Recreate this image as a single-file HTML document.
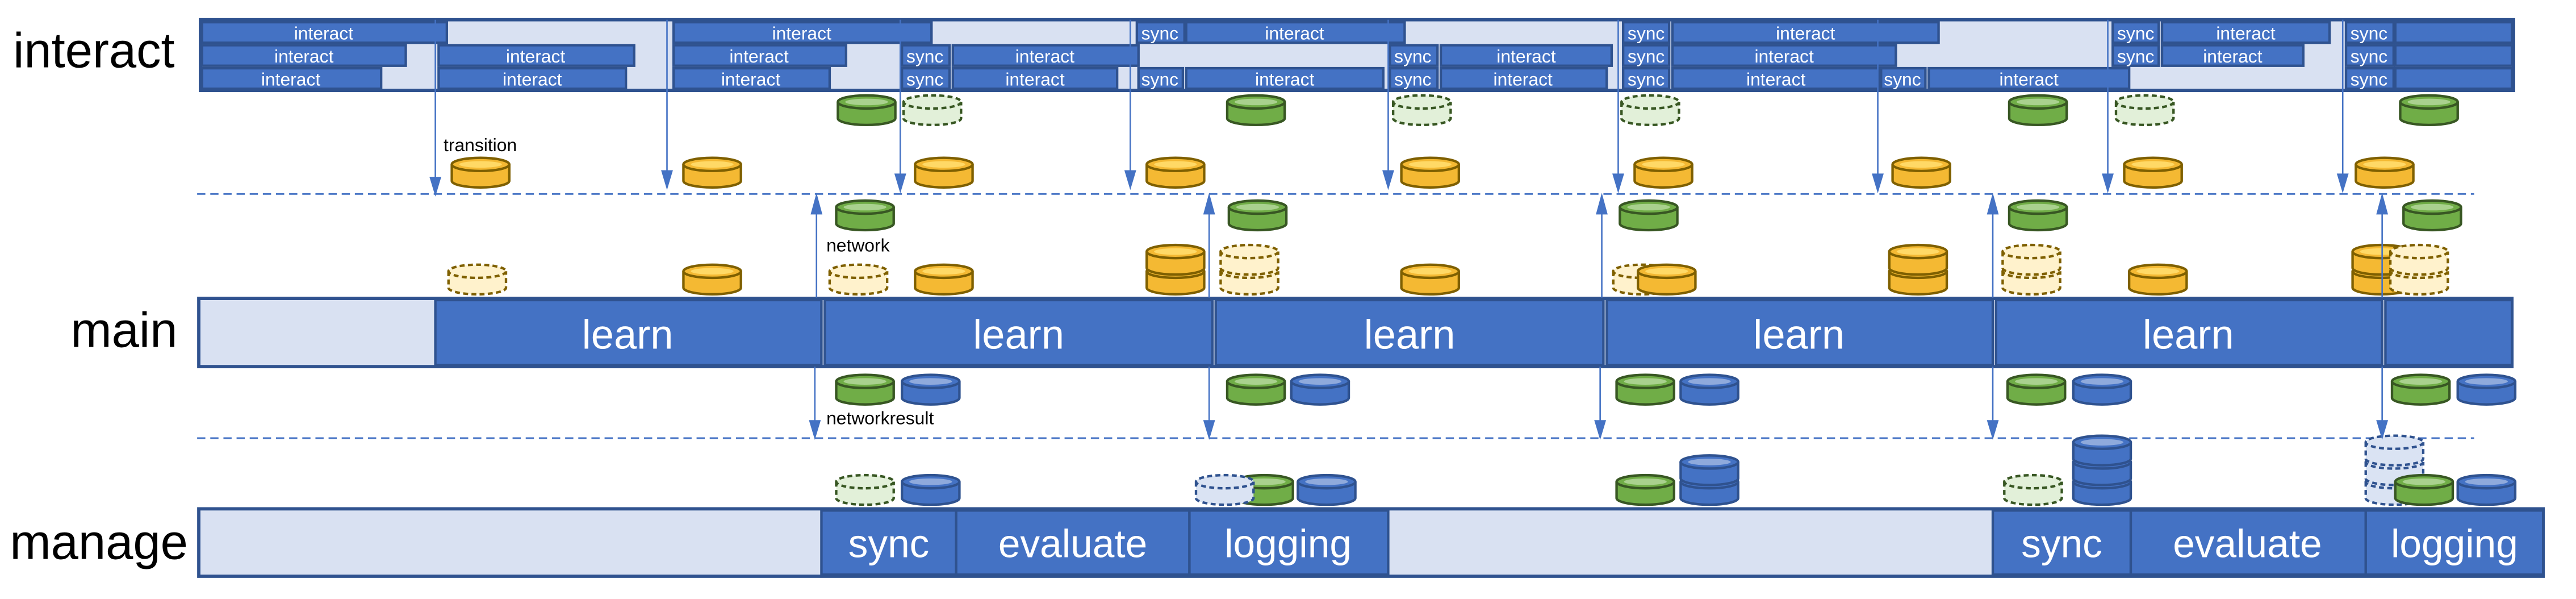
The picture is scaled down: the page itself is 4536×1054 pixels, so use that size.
<!DOCTYPE html>
<html><head><meta charset="utf-8"><style>
html,body{margin:0;padding:0;background:#fff;}
svg{display:block;}
text{font-family:"Liberation Sans",sans-serif;}
</style></head><body>
<svg width="4536" height="1054" viewBox="0 0 1568 364.34" preserveAspectRatio="none" xmlns="http://www.w3.org/2000/svg">
<defs>
<g id="Y"><path d="M0,4 V14 A17.5,4 0 0 0 35,14 V4" fill="#F4B933" stroke="#7F6000" stroke-width="1.5"/><ellipse cx="17.5" cy="4" rx="17.5" ry="4" fill="#F4B933" stroke="#7F6000" stroke-width="1.5"/><ellipse cx="17.5" cy="4" rx="13" ry="2" fill="#FFD966"/></g>
<g id="YD"><path d="M0,4 V14 A17.5,4 0 0 0 35,14 V4" fill="#FFF2CC" stroke="#7F6000" stroke-width="1.5" stroke-dasharray="3,2"/><ellipse cx="17.5" cy="4" rx="17.5" ry="4" fill="#FFF2CC" stroke="#7F6000" stroke-width="1.5" stroke-dasharray="3,2"/></g>
<g id="G"><path d="M0,4 V14 A17.5,4 0 0 0 35,14 V4" fill="#70AD47" stroke="#385723" stroke-width="1.5"/><ellipse cx="17.5" cy="4" rx="17.5" ry="4" fill="#70AD47" stroke="#385723" stroke-width="1.5"/><ellipse cx="17.5" cy="4" rx="13" ry="2" fill="#A9D18E"/></g>
<g id="GD"><path d="M0,4 V14 A17.5,4 0 0 0 35,14 V4" fill="#E2F0D9" stroke="#385723" stroke-width="1.5" stroke-dasharray="3,2"/><ellipse cx="17.5" cy="4" rx="17.5" ry="4" fill="#E2F0D9" stroke="#385723" stroke-width="1.5" stroke-dasharray="3,2"/></g>
<g id="B"><path d="M0,4 V14 A17.5,4 0 0 0 35,14 V4" fill="#4472C4" stroke="#2F528F" stroke-width="1.5"/><ellipse cx="17.5" cy="4" rx="17.5" ry="4" fill="#4472C4" stroke="#2F528F" stroke-width="1.5"/><ellipse cx="17.5" cy="4" rx="13" ry="2" fill="#8FAADC"/></g>
<g id="BD"><path d="M0,4 V14 A17.5,4 0 0 0 35,14 V4" fill="#DAE3F3" stroke="#2F528F" stroke-width="1.5" stroke-dasharray="3,2"/><ellipse cx="17.5" cy="4" rx="17.5" ry="4" fill="#DAE3F3" stroke="#2F528F" stroke-width="1.5" stroke-dasharray="3,2"/></g>
</defs>

<!-- left labels -->
<text x="8" y="41" font-size="30">interact</text>
<text x="43" y="211" font-size="30">main</text>
<text x="6" y="340" font-size="30">manage</text>

<!-- interact frame -->
<rect x="122" y="12" width="1408" height="43" fill="#D9E1F2" stroke="#2F528F" stroke-width="2"/>
<g fill="#4472C4" stroke="#2F528F" stroke-width="1.5">
<!-- row1 -->
<rect x="123" y="13.5" width="149" height="12.5"/><rect x="410" y="13.5" width="157" height="12.5"/><rect x="692" y="13.5" width="29" height="12.5"/><rect x="722" y="13.5" width="133" height="12.5"/><rect x="988" y="13.5" width="28" height="12.5"/><rect x="1018" y="13.5" width="162" height="12.5"/><rect x="1286" y="13.5" width="28" height="12.5"/><rect x="1316" y="13.5" width="102" height="12.5"/><rect x="1428" y="13.5" width="29" height="12.5"/><rect x="1458" y="13.5" width="71" height="12.5"/>
<!-- row2 -->
<rect x="123" y="27.5" width="124" height="12.5"/><rect x="267" y="27.5" width="119" height="12.5"/><rect x="410" y="27.5" width="105" height="12.5"/><rect x="549" y="27.5" width="29" height="12.5"/><rect x="580" y="27.5" width="113" height="12.5"/><rect x="846" y="27.5" width="29" height="12.5"/><rect x="877" y="27.5" width="104" height="12.5"/><rect x="988" y="27.5" width="28" height="12.5"/><rect x="1018" y="27.5" width="136" height="12.5"/><rect x="1286" y="27.5" width="28" height="12.5"/><rect x="1316" y="27.5" width="86" height="12.5"/><rect x="1428" y="27.5" width="29" height="12.5"/><rect x="1458" y="27.5" width="71" height="12.5"/>
<!-- row3 -->
<rect x="123" y="41.5" width="109" height="12.5"/><rect x="267" y="41.5" width="114" height="12.5"/><rect x="410" y="41.5" width="95" height="12.5"/><rect x="549" y="41.5" width="29" height="12.5"/><rect x="580" y="41.5" width="100" height="12.5"/><rect x="693" y="41.5" width="27" height="12.5"/><rect x="722" y="41.5" width="120" height="12.5"/><rect x="846" y="41.5" width="29" height="12.5"/><rect x="877" y="41.5" width="101" height="12.5"/><rect x="988" y="41.5" width="28" height="12.5"/><rect x="1018" y="41.5" width="126" height="12.5"/><rect x="1145" y="41.5" width="27" height="12.5"/><rect x="1174" y="41.5" width="122" height="12.5"/><rect x="1428" y="41.5" width="29" height="12.5"/><rect x="1458" y="41.5" width="71" height="12.5"/>
</g>
<g fill="#fff" font-size="11" text-anchor="middle">
<text x="197" y="24">interact</text><text x="488" y="24">interact</text><text x="706" y="24">sync</text><text x="788" y="24">interact</text><text x="1002" y="24">sync</text><text x="1099" y="24">interact</text><text x="1300" y="24">sync</text><text x="1367" y="24">interact</text><text x="1442" y="24">sync</text>
<text x="185" y="38">interact</text><text x="326" y="38">interact</text><text x="462" y="38">interact</text><text x="563" y="38">sync</text><text x="636" y="38">interact</text><text x="860" y="38">sync</text><text x="929" y="38">interact</text><text x="1002" y="38">sync</text><text x="1086" y="38">interact</text><text x="1300" y="38">sync</text><text x="1359" y="38">interact</text><text x="1442" y="38">sync</text>
<text x="177" y="52">interact</text><text x="324" y="52">interact</text><text x="457" y="52">interact</text><text x="563" y="52">sync</text><text x="630" y="52">interact</text><text x="706" y="52">sync</text><text x="782" y="52">interact</text><text x="860" y="52">sync</text><text x="927" y="52">interact</text><text x="1002" y="52">sync</text><text x="1081" y="52">interact</text><text x="1158" y="52">sync</text><text x="1235" y="52">interact</text><text x="1442" y="52">sync</text>
</g>

<!-- dashed lines -->
<line x1="120" y1="118" x2="1506" y2="118" stroke="#4472C4" stroke-width="1" stroke-dasharray="5,3"/>
<line x1="120" y1="266.5" x2="1506" y2="266.5" stroke="#4472C4" stroke-width="1" stroke-dasharray="5,3"/>

<!-- main bar -->
<rect x="121" y="181.5" width="1408" height="41.5" fill="#D9E1F2" stroke="#2F528F" stroke-width="2"/>
<g fill="#4472C4" stroke="#2F528F" stroke-width="1.5">
<rect x="265" y="182.5" width="235" height="39.5"/><rect x="502" y="182.5" width="236" height="39.5"/><rect x="740" y="182.5" width="236" height="39.5"/><rect x="978" y="182.5" width="235" height="39.5"/><rect x="1215" y="182.5" width="235" height="39.5"/><rect x="1452" y="182.5" width="77" height="39.5"/>
</g>
<g fill="#fff" font-size="25" text-anchor="middle">
<text x="382" y="212">learn</text><text x="620" y="212">learn</text><text x="858" y="212">learn</text><text x="1095" y="212">learn</text><text x="1332" y="212">learn</text>
</g>

<!-- manage bar -->
<rect x="121" y="309.5" width="1427" height="41" fill="#D9E1F2" stroke="#2F528F" stroke-width="2"/>
<g fill="#4472C4" stroke="#2F528F" stroke-width="1.5">
<rect x="500" y="310.5" width="82" height="39"/><rect x="582" y="310.5" width="142" height="39"/><rect x="724" y="310.5" width="121" height="39"/><rect x="1213" y="310.5" width="84" height="39"/><rect x="1297" y="310.5" width="143" height="39"/><rect x="1440" y="310.5" width="108" height="39"/>
</g>
<g fill="#fff" font-size="24" text-anchor="middle">
<text x="541" y="339">sync</text><text x="653" y="339">evaluate</text><text x="784" y="339">logging</text><text x="1255" y="339">sync</text><text x="1368" y="339">evaluate</text><text x="1494" y="339">logging</text>
</g>

<!-- cylinders upper -->
<use href="#G" x="510" y="58"/><use href="#GD" x="550" y="58"/><use href="#G" x="747" y="58"/><use href="#GD" x="848" y="58"/><use href="#GD" x="987" y="58"/><use href="#G" x="1223" y="58"/><use href="#GD" x="1288" y="58"/><use href="#G" x="1461" y="58"/>
<use href="#Y" x="275" y="96"/><use href="#Y" x="416" y="96"/><use href="#Y" x="557" y="96"/><use href="#Y" x="698" y="96"/><use href="#Y" x="853" y="96"/><use href="#Y" x="995" y="96"/><use href="#Y" x="1152" y="96"/><use href="#Y" x="1293" y="96"/><use href="#Y" x="1434" y="96"/>
<use href="#G" x="509" y="122"/><use href="#G" x="748" y="122"/><use href="#G" x="986" y="122"/><use href="#G" x="1223" y="122"/><use href="#G" x="1463" y="122"/>
<!-- above main -->
<use href="#YD" x="273" y="161"/><use href="#Y" x="416" y="161"/><use href="#YD" x="505" y="161"/><use href="#Y" x="557" y="161"/>
<use href="#Y" x="698" y="161"/><use href="#Y" x="698" y="149"/>
<use href="#YD" x="743" y="161"/><use href="#YD" x="743" y="149"/>
<use href="#Y" x="853" y="161"/><use href="#YD" x="982" y="161"/><use href="#Y" x="997" y="161"/>
<use href="#Y" x="1150" y="161"/><use href="#Y" x="1150" y="149"/>
<use href="#YD" x="1219" y="161"/><use href="#YD" x="1219" y="149"/>
<use href="#Y" x="1296" y="161"/>
<use href="#Y" x="1432" y="161"/><use href="#Y" x="1432" y="149"/>
<use href="#YD" x="1455" y="161"/><use href="#YD" x="1455" y="149"/>
<!-- below main -->
<use href="#G" x="509" y="228"/><use href="#B" x="549" y="228"/><use href="#G" x="747" y="228"/><use href="#B" x="786" y="228"/><use href="#G" x="984" y="228"/><use href="#B" x="1023" y="228"/><use href="#G" x="1222" y="228"/><use href="#B" x="1262" y="228"/><use href="#G" x="1456" y="228"/><use href="#B" x="1496" y="228"/>
<!-- above manage -->
<use href="#GD" x="509" y="289"/><use href="#B" x="549" y="289"/>
<use href="#G" x="752" y="289"/><use href="#BD" x="728" y="289"/><use href="#B" x="790" y="289"/>
<use href="#G" x="984" y="289"/><use href="#B" x="1023" y="289"/><use href="#B" x="1023" y="277"/>
<use href="#GD" x="1220" y="289"/><use href="#B" x="1262" y="289"/><use href="#B" x="1262" y="277"/><use href="#B" x="1262" y="265"/>
<use href="#BD" x="1440" y="289"/><use href="#BD" x="1440" y="277"/><use href="#BD" x="1440" y="265"/><use href="#G" x="1458" y="289"/><use href="#B" x="1496" y="289"/>

<!-- labels -->
<g font-size="11" fill="#000">
<text x="270" y="92">transition</text><text x="503" y="153">network</text><text x="503" y="258">networkresult</text>
</g>

<!-- arrows down from interact -->
<g stroke="#4472C4" stroke-width="0.9" fill="#4472C4">
<line x1="265" y1="12" x2="265" y2="110"/><polygon points="262,108 268,108 265,118"/>
<line x1="406" y1="12" x2="406" y2="110"/><polygon points="403,104 409,104 406,114"/>
<line x1="548" y1="12" x2="548" y2="110"/><polygon points="545,106 551,106 548,116"/>
<line x1="688" y1="12" x2="688" y2="110"/><polygon points="685,104 691,104 688,114"/>
<line x1="845" y1="12" x2="845" y2="110"/><polygon points="842,104 848,104 845,114"/>
<line x1="985" y1="12" x2="985" y2="110"/><polygon points="982,106 988,106 985,116"/>
<line x1="1143" y1="12" x2="1143" y2="110"/><polygon points="1140,106 1146,106 1143,116"/>
<line x1="1283" y1="12" x2="1283" y2="110"/><polygon points="1280,106 1286,106 1283,116"/>
<line x1="1426" y1="12" x2="1426" y2="110"/><polygon points="1423,106 1429,106 1426,116"/>
<!-- up arrows -->
<line x1="497" y1="181" x2="497" y2="128"/><polygon points="494,130 500,130 497,119"/>
<line x1="736" y1="181" x2="736" y2="128"/><polygon points="733,130 739,130 736,119"/>
<line x1="975" y1="181" x2="975" y2="128"/><polygon points="972,130 978,130 975,119"/>
<line x1="1213" y1="181" x2="1213" y2="128"/><polygon points="1210,130 1216,130 1213,119"/>
<line x1="1450" y1="181" x2="1450" y2="128"/><polygon points="1447,130 1453,130 1450,119"/>
<!-- down arrows to dashed -->
<line x1="496" y1="223" x2="496" y2="258"/><polygon points="493,256 499,256 496,266"/>
<line x1="736" y1="223" x2="736" y2="258"/><polygon points="733,256 739,256 736,266"/>
<line x1="974" y1="223" x2="974" y2="258"/><polygon points="971,256 977,256 974,266"/>
<line x1="1213" y1="223" x2="1213" y2="258"/><polygon points="1210,256 1216,256 1213,266"/>
<line x1="1450" y1="223" x2="1450" y2="258"/><polygon points="1447,256 1453,256 1450,266"/>
</g>
</svg>
</body></html>
